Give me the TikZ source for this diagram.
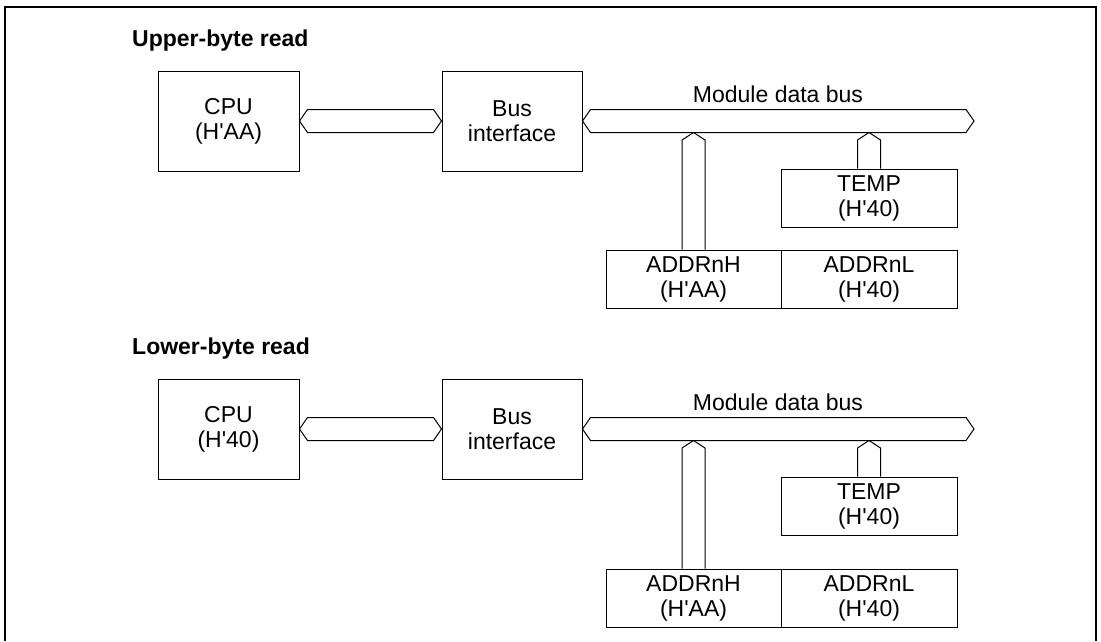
\documentclass[tikz,border=0pt]{standalone}
\usepackage{fontspec}
\setmainfont{Liberation Sans}
\usetikzlibrary{calc}
\tikzset{
  blk/.style={draw, line width=1pt, inner sep=0pt, align=center,
    font=\fontsize{23}{25}\selectfont},
  lbl/.style={inner sep=0pt, font=\fontsize{23}{25}\selectfont},
  ttl/.style={inner sep=0pt, font=\fontsize{23}{25}\selectfont\bfseries},
  busline/.style={draw, line width=1pt, line join=miter},
  frameline/.style={draw, line width=2pt}
}
\newcommand\q{\textquotesingle}
\newcommand\hbus[2]{%
  \draw[busline] (#1) -- ($(#1)+(8,-11.5)$) -- ($(#2)+(-8,-11.5)$) -- (#2)
    -- ($(#2)+(-8,11.5)$) -- ($(#1)+(8,11.5)$) -- cycle;}
\newcommand\vbus[2]{%
  \draw[busline] ($(#2)+(-11.5,0)$) -- ($(#1)+(-11.5,7.5)$) -- (#1)
    -- ($(#1)+(11.5,7.5)$) -- ($(#2)+(11.5,0)$);}
\newcommand\panel[5]{%
  \begin{scope}[yshift=-#2pt]
    \node[ttl, anchor=base west] (#1title) at (132,46) {#3};
    \node[blk, minimum width=141pt, minimum height=100pt] (#1cpu) at (228.5,121) {CPU\\#4};
    \node[blk, minimum width=140pt, minimum height=100pt] (#1bi) at (512,121) {Bus\\interface};
    \node[blk, minimum width=176pt, minimum height=58pt] (#1temp) at (869,198) {TEMP\\(H\q40)};
    \node[blk, minimum width=175pt, minimum height=58pt] (#1addrh) at (693.5,279+#5) {ADDRnH\\(H\q AA)};
    \node[blk, minimum width=176pt, minimum height=58pt] (#1addrl) at (869,279+#5) {ADDRnL\\(H\q40)};
    \node[lbl, anchor=base] (#1mbl) at (778,102) {Module data bus};
    \coordinate (#1mbR) at (974,121);
    \coordinate (#1mbB) at (600,132.5);
  \end{scope}
  \hbus{#1cpu.east}{#1bi.west}
  \hbus{#1bi.east}{#1mbR}
  \coordinate (#1tipH) at (#1addrh.north |- #1mbB);
  \coordinate (#1tipT) at (#1temp.north |- #1mbB);
  \vbus{#1tipH}{#1addrh.north}
  \vbus{#1tipT}{#1temp.north}
}
\begin{document}
\begin{tikzpicture}[x=1pt,y=-1pt]
  \useasboundingbox (0,0) rectangle (1101,641);
  \draw[frameline] (5,641) -- (5,7) -- (1096,7) -- (1096,641);
  \panel{u}{0}{Upper-byte read}{(H\q AA)}{0}
  \panel{l}{308}{Lower-byte read}{(H\q40)}{11}
\end{tikzpicture}
\end{document}
